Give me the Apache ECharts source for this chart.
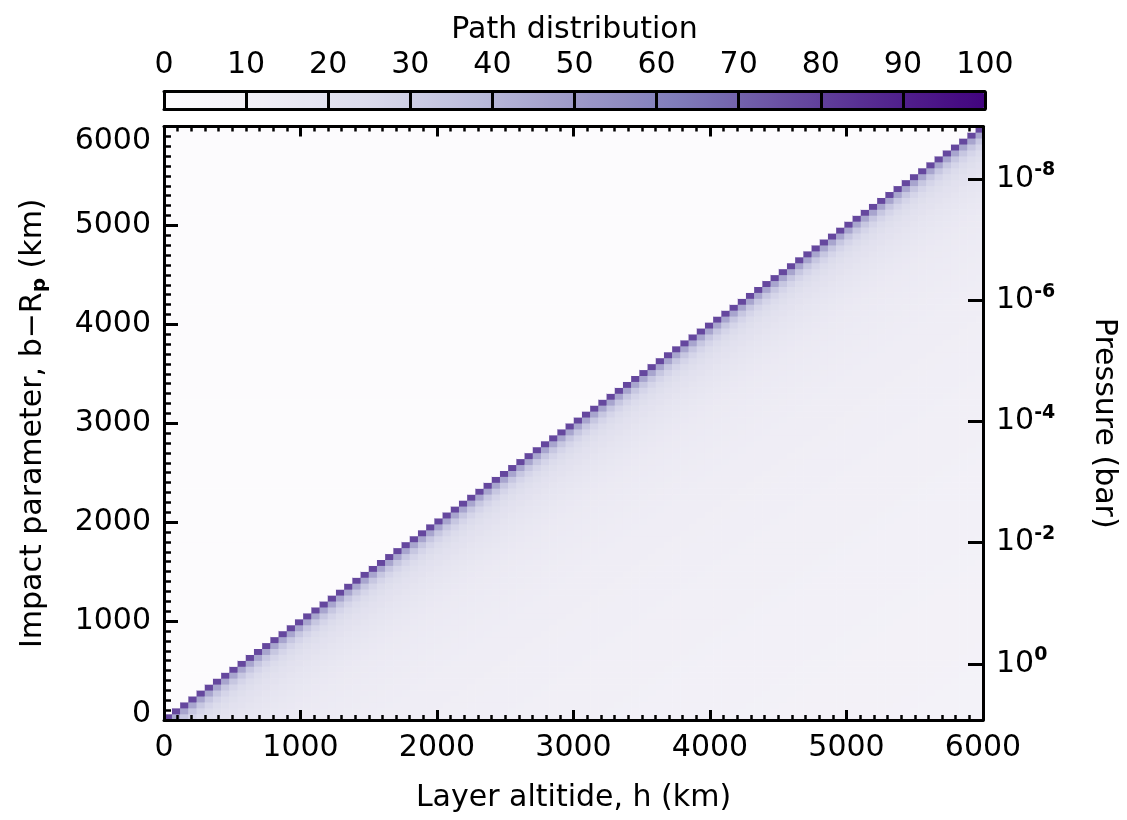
<!DOCTYPE html>
<html><head><meta charset="utf-8">
<script src="https://cdn.jsdelivr.net/npm/echarts@6/dist/echarts.min.js"></script>
<style>html,body{margin:0;padding:0;background:#fff}#c{width:1127px;height:820px}</style>
</head><body><div id="c"></div>
<script>
// ---------------- data ----------------
const altitudeRange = [0, 6000];          // layer altitude h (km)
const impactRange = [0, 6000];            // impact parameter b - Rp (km)
const cellCount = 100;                    // grid cells per axis
// path distribution (%), as a function of the
// cell distance (h - b) from the diagonal; zero where h < b
const pathProfile = [
  78, 46, 33, 27, 24, 22, 20.5, 19.5, 18.5, 17.8,
  17.2, 16.6, 16, 15.5, 15, 14.8, 14.5, 14.2, 14, 13.8,
  13.6, 13.4, 13.2, 13, 12.9, 12.8, 12.6, 12.5, 12.4, 12.3,
  12.2, 12.1, 12, 11.9, 11.8, 11.7, 11.6, 11.5, 11.4, 11.3,
  11.2, 11.1, 11, 10.9, 10.8, 10.8, 10.7, 10.6, 10.5, 10.5,
  10.4, 10.3, 10.3, 10.2, 10.1, 10.1, 10, 10, 9.9, 9.8,
  9.8, 9.7, 9.7, 9.6, 9.6, 9.5, 9.5, 9.4, 9.4, 9.3,
  9.3, 9.2, 9.2, 9.1, 9.1, 9, 9, 8.9, 8.9, 8.9,
  8.8, 8.8, 8.7, 8.7, 8.7, 8.6, 8.6, 8.5, 8.5, 8.5,
  8.4, 8.4, 8.4, 8.3, 8.3, 8.3, 8.2, 8.2, 8.2, 8.1
];
const colorbarRange = [0, 100];
const colorbarStep = 10;
const pressureExponents = [0, -2, -4, -6, -8];      // tick labels 10^n bar
const pressureAxisRange = [-0.925, 8.863];           // -log10(P) at bottom / top of plot
const purpleScale = ['#fcfbfd','#efedf5','#dadaeb','#bcbddc','#9e9ac8','#807dba','#6a51a3','#54278f','#42047f'];

// ---------------- build ----------------
const cells = Array.from({length: cellCount}, (_, i) => i);
const heat = [];
for (let i = 0; i < cellCount; i++) {
  for (let j = 0; j < cellCount; j++) {
    heat.push([i, j, i >= j ? pathProfile[i - j] : 0]);
  }
}

const FONT = 'DejaVu Sans';
const BLACK = '#000';
const lineW = {color: BLACK, width: 3};
const G = {left: 164, right: 143, top: 126.5, bottom: 100};
const plain = v => String(v);

const chart = echarts.init(document.getElementById('c'), null, {renderer: 'canvas'});
const option = {
  animation: false,
  backgroundColor: '#fff',
  textStyle: {fontFamily: FONT, color: BLACK},
  grid: [
    Object.assign({}, G),
    Object.assign({}, G),
    {left: 164, right: 142, top: 91.5, height: 18}
  ],
  xAxis: [
    {gridIndex: 0, type: 'category', data: cells, show: false},
    {gridIndex: 1, type: 'value', position: 'bottom', min: altitudeRange[0], max: altitudeRange[1], interval: 1000, z: 10,
     axisLine: {onZero: false, lineStyle: lineW},
     axisTick: {inside: true, length: 10, lineStyle: {color: BLACK, width: 3}},
     minorTick: {show: true, splitNumber: 10, length: 5, lineStyle: {color: BLACK, width: 2.5}},
     splitLine: {show: false},
     axisLabel: {fontSize: 30, color: BLACK, margin: 13, fontFamily: FONT, formatter: plain},
     name: 'Layer altitide, h (km)', nameLocation: 'middle', nameGap: 63,
     nameTextStyle: {fontSize: 30, color: BLACK, fontFamily: FONT}},
    {gridIndex: 1, type: 'value', position: 'top', min: altitudeRange[0], max: altitudeRange[1], interval: 1000, z: 10,
     axisLine: {onZero: false, lineStyle: lineW},
     axisTick: {inside: true, length: 10, lineStyle: {color: BLACK, width: 3}},
     minorTick: {show: true, splitNumber: 10, length: 5, lineStyle: {color: BLACK, width: 2.5}},
     splitLine: {show: false}, axisLabel: {show: false}},
    {gridIndex: 2, type: 'value', position: 'top', min: colorbarRange[0], max: colorbarRange[1], interval: colorbarStep, z: 10,
     axisLine: {onZero: false, lineStyle: lineW}, axisTick: {show: false},
     axisLabel: {fontSize: 30, color: BLACK, margin: 11, fontFamily: FONT, formatter: plain},
     splitLine: {show: true, lineStyle: {color: BLACK, width: 3}},
     name: 'Path distribution', nameLocation: 'middle', nameGap: 46,
     nameTextStyle: {fontSize: 30, color: BLACK, fontFamily: FONT}},
    {gridIndex: 2, type: 'value', position: 'bottom', min: colorbarRange[0], max: colorbarRange[1], z: 10,
     axisLine: {onZero: false, lineStyle: lineW}, axisTick: {show: false}, axisLabel: {show: false}, splitLine: {show: false}}
  ],
  yAxis: [
    {gridIndex: 0, type: 'category', data: cells, show: false},
    {gridIndex: 1, type: 'value', position: 'left', min: impactRange[0], max: impactRange[1], interval: 1000, z: 10,
     axisLine: {onZero: false, lineStyle: lineW},
     axisTick: {inside: true, length: 14, lineStyle: {color: BLACK, width: 3}},
     minorTick: {show: true, splitNumber: 10, length: 7, lineStyle: {color: BLACK, width: 2.5}},
     splitLine: {show: false},
     axisLabel: {fontSize: 30, color: BLACK, margin: 13, fontFamily: FONT,
                 formatter: v => v === impactRange[0] ? '{lo|' + v + '}' : (v === impactRange[1] ? '{hi|' + v + '}' : String(v)),
                 rich: {lo: {fontSize: 30, fontFamily: FONT, color: BLACK, padding: [0, 0, 12, 0]},
                        hi: {fontSize: 30, fontFamily: FONT, color: BLACK, padding: [30, 0, 0, 0]}}},
     name: 'Impact parameter, b\u2212R{sub|p} (km)', nameLocation: 'middle', nameGap: 114, nameRotate: 90,
     nameTextStyle: {fontSize: 30, color: BLACK, fontFamily: FONT, lineHeight: 34,
       rich: {sub: {fontSize: 20, fontWeight: 'bold', lineHeight: 14, verticalAlign: 'bottom', fontFamily: FONT, color: BLACK}}}},
    {gridIndex: 1, type: 'value', position: 'right', min: pressureAxisRange[0], max: pressureAxisRange[1], z: 10,
     axisLine: {onZero: false, lineStyle: lineW},
     axisTick: {inside: true, length: 15, customValues: pressureExponents.map(e => -e), lineStyle: {color: BLACK, width: 3}},
     splitLine: {show: false},
     axisLabel: {customValues: pressureExponents.map(e => -e), margin: 13, fontSize: 30, color: BLACK, fontFamily: FONT, lineHeight: 36,
       formatter: v => '10{sup|' + (v === 0 ? '0' : '-' + v) + '}',
       rich: {sup: {fontSize: 19, fontWeight: 'bold', lineHeight: 16, verticalAlign: 'top', fontFamily: FONT, color: BLACK}}},
     name: 'Pressure (bar)', nameLocation: 'middle', nameGap: 106, nameRotate: -90,
     nameTextStyle: {fontSize: 30, color: BLACK, fontFamily: FONT}},
    {gridIndex: 2, type: 'value', min: 0, max: 1, show: false}
  ],
  visualMap: {
    type: 'continuous', min: colorbarRange[0], max: colorbarRange[1], seriesIndex: 0, dimension: 2,
    orient: 'horizontal', left: 164, top: 91.5, itemWidth: 18, itemHeight: 820, padding: 0,
    calculable: false, hoverLink: false, show: true, text: null, z: 4,
    inRange: {color: purpleScale}
  },
  series: [{
    type: 'heatmap', xAxisIndex: 0, yAxisIndex: 0, data: heat, progressive: 0,
    emphasis: {disabled: true}, itemStyle: {borderWidth: 0}
  }]
};
chart.setOption(option);
</script>
</body></html>
